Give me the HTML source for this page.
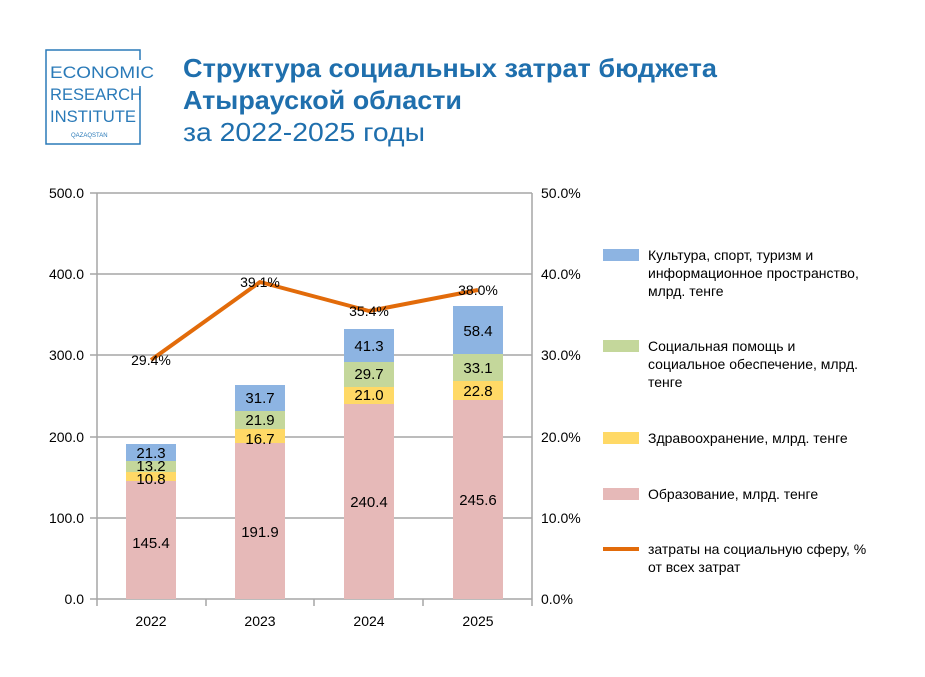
<!DOCTYPE html>
<html><head><meta charset="utf-8"><style>
body{margin:0;background:#fff;width:925px;height:672px;overflow:hidden;font-family:"Liberation Sans",sans-serif}
</style></head><body>
<svg width="925" height="672" xmlns="http://www.w3.org/2000/svg" font-family="Liberation Sans, sans-serif">
<rect x="46" y="50" width="94" height="94" fill="none" stroke="#2a7ab8" stroke-width="1.5"/>
<rect x="130" y="60" width="14" height="26" fill="#fff"/>
<g fill="#2a7ab8" font-size="17">
<text x="50" y="78" textLength="104" lengthAdjust="spacingAndGlyphs">ECONOMIC</text>
<text x="50" y="100" textLength="92" lengthAdjust="spacingAndGlyphs">RESEARCH</text>
<text x="50" y="122" textLength="86" lengthAdjust="spacingAndGlyphs">INSTITUTE</text>
<text x="71" y="137" font-size="6">QAZAQSTAN</text>
</g>
<g fill="#1f6fad">
<text x="183" y="77" font-size="26" font-weight="bold" textLength="534" lengthAdjust="spacingAndGlyphs">Структура социальных затрат бюджета</text>
<text x="183" y="109" font-size="26" font-weight="bold" textLength="279" lengthAdjust="spacingAndGlyphs">Атырауской области</text>
<text x="183" y="141" font-size="26" textLength="242" lengthAdjust="spacingAndGlyphs">за 2022-2025 годы</text>
</g>
<g stroke="#a6a6a6" stroke-width="1.5">
<line x1="90" y1="193" x2="532" y2="193"/><line x1="90" y1="274" x2="532" y2="274"/>
<line x1="90" y1="355" x2="532" y2="355"/><line x1="90" y1="437" x2="532" y2="437"/>
<line x1="90" y1="518" x2="532" y2="518"/><line x1="90" y1="599" x2="532" y2="599"/>
<line x1="97" y1="193" x2="97" y2="606"/><line x1="532" y1="193" x2="532" y2="606"/>
<line x1="206" y1="599" x2="206" y2="606"/><line x1="314" y1="599" x2="314" y2="606"/><line x1="423" y1="599" x2="423" y2="606"/>
</g>
<g font-size="14" fill="#000">
<g text-anchor="end"><text x="84" y="198">500.0</text><text x="84" y="279">400.0</text><text x="84" y="360">300.0</text><text x="84" y="442">200.0</text><text x="84" y="523">100.0</text><text x="84" y="604">0.0</text></g>
<g><text x="541" y="198">50.0%</text><text x="541" y="279">40.0%</text><text x="541" y="360">30.0%</text><text x="541" y="442">20.0%</text><text x="541" y="523">10.0%</text><text x="541" y="604">0.0%</text></g>
<g text-anchor="middle"><text x="151" y="626">2022</text><text x="260" y="626">2023</text><text x="369" y="626">2024</text><text x="478" y="626">2025</text></g>
</g>
<g>
<rect x="126" y="481" width="50" height="118" fill="#e6b9b8"/><rect x="126" y="472" width="50" height="9" fill="#ffd966"/><rect x="126" y="461" width="50" height="11" fill="#c4d79b"/><rect x="126" y="444" width="50" height="17" fill="#8db4e2"/>
<rect x="235" y="443" width="50" height="156" fill="#e6b9b8"/><rect x="235" y="429" width="50" height="14" fill="#ffd966"/><rect x="235" y="411" width="50" height="18" fill="#c4d79b"/><rect x="235" y="385" width="50" height="26" fill="#8db4e2"/>
<rect x="344" y="404" width="50" height="195" fill="#e6b9b8"/><rect x="344" y="387" width="50" height="17" fill="#ffd966"/><rect x="344" y="362" width="50" height="25" fill="#c4d79b"/><rect x="344" y="329" width="50" height="33" fill="#8db4e2"/>
<rect x="453" y="400" width="50" height="199" fill="#e6b9b8"/><rect x="453" y="381" width="50" height="19" fill="#ffd966"/><rect x="453" y="354" width="50" height="27" fill="#c4d79b"/><rect x="453" y="306" width="50" height="48" fill="#8db4e2"/>
</g>
<g font-size="15" text-anchor="middle" fill="#000">
<text x="151" y="548">145.4</text><text x="151" y="484">10.8</text><text x="151" y="471">13.2</text><text x="151" y="458">21.3</text>
<text x="260" y="537">191.9</text><text x="260" y="444">16.7</text><text x="260" y="425">21.9</text><text x="260" y="403">31.7</text>
<text x="369" y="507">240.4</text><text x="369" y="400">21.0</text><text x="369" y="379">29.7</text><text x="369" y="351">41.3</text>
<text x="478" y="505">245.6</text><text x="478" y="396">22.8</text><text x="478" y="373">33.1</text><text x="478" y="336">58.4</text>
</g>
<polyline points="151,360 260,282 369,311 478,290" fill="none" stroke="#e26b0a" stroke-width="4" stroke-linejoin="round"/>
<g font-size="14" text-anchor="middle" fill="#000">
<text x="151" y="365">29.4%</text><text x="260" y="287">39.1%</text><text x="369" y="316">35.4%</text><text x="478" y="295">38.0%</text>
</g>
<g font-size="14" fill="#000">
<rect x="603" y="249" width="36" height="12" fill="#8db4e2"/>
<text x="648" y="260">Культура, спорт, туризм и</text><text x="648" y="278">информационное пространство,</text><text x="648" y="296">млрд. тенге</text>
<rect x="603" y="340" width="36" height="12" fill="#c4d79b"/>
<text x="648" y="351">Социальная помощь и</text><text x="648" y="369">социальное обеспечение, млрд.</text><text x="648" y="387">тенге</text>
<rect x="603" y="432" width="36" height="12" fill="#ffd966"/>
<text x="648" y="443">Здравоохранение, млрд. тенге</text>
<rect x="603" y="488" width="36" height="12" fill="#e6b9b8"/>
<text x="648" y="499">Образование, млрд. тенге</text>
<line x1="603" y1="549" x2="639" y2="549" stroke="#e26b0a" stroke-width="4"/>
<text x="648" y="554">затраты на социальную сферу, %</text><text x="648" y="572">от всех затрат</text>
</g>
</svg>
</body></html>
